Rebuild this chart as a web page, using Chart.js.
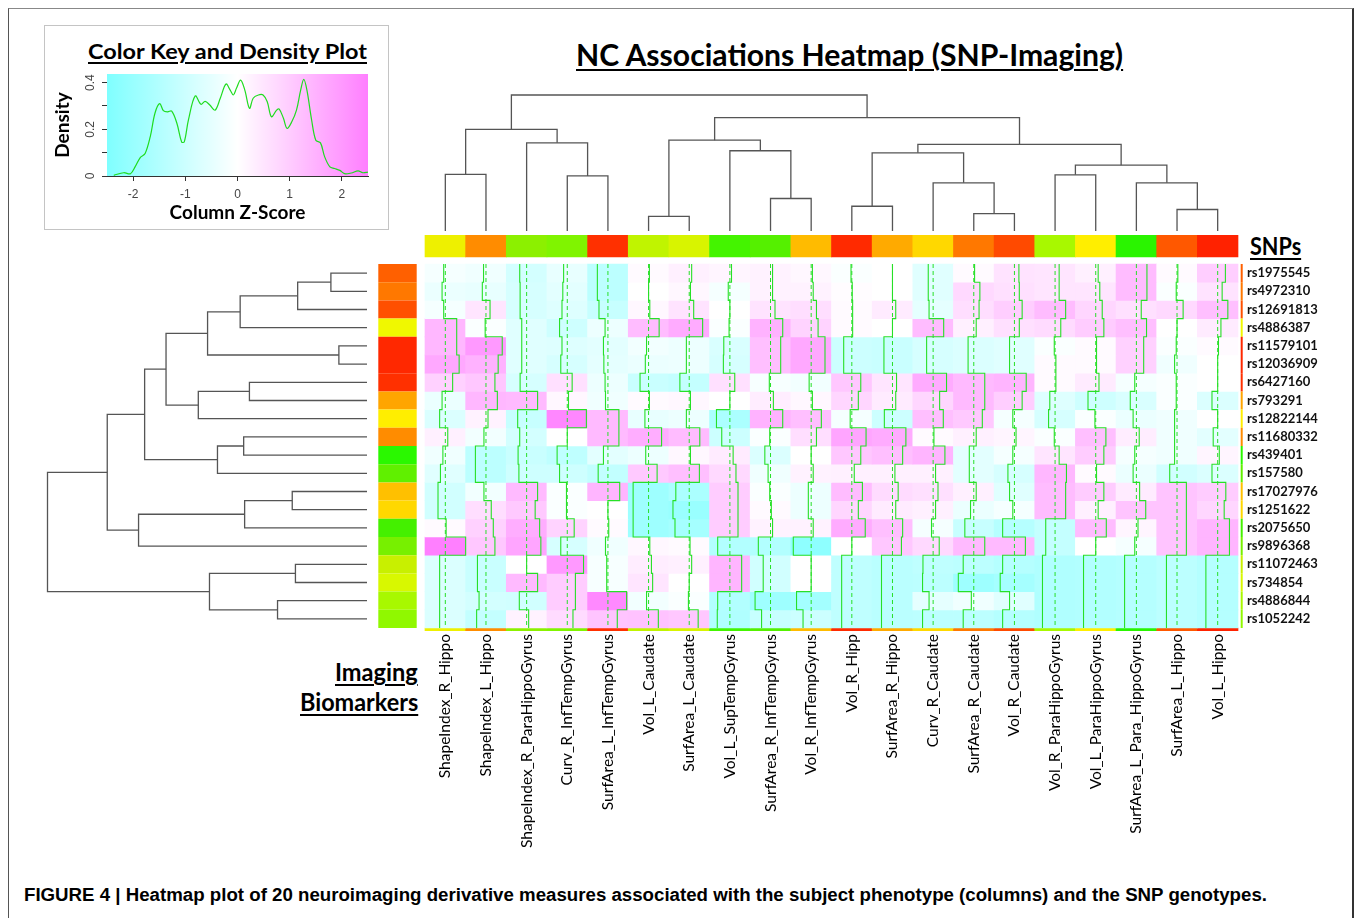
<!DOCTYPE html>
<html>
<head>
<meta charset="utf-8">
<script src="https://cdn.jsdelivr.net/npm/chart.js@4.4.0/dist/chart.umd.min.js"></script>
<style>
  html, body { margin: 0; padding: 0; background: #fff; }
  body { width: 1355px; height: 918px; position: relative; overflow: hidden; font-family: Lato, 'Open Sans', sans-serif; }
  .abs { position: absolute; }
  #frame { left: 8px; top: 8px; width: 1346px; height: 930px; border-top: 1.5px solid #888; border-left: 1px solid #555; border-right: 2px solid #333; box-sizing: border-box; }
  #keybox { left: 44px; top: 25px; width: 345px; height: 205px; border: 1.5px solid #c4c4c4; box-sizing: border-box; }
  .txt { position: absolute; white-space: nowrap; color: #000; line-height: 1.2; }
  .ttl { font-weight: 700; text-decoration: underline; text-decoration-thickness: 2px; text-underline-offset: 3px; }
  canvas { position: absolute; }
</style>
</head>
<body>
<div id="frame" class="abs"></div>
<div id="keybox" class="abs"></div>

<div id="tMain" class="txt ttl" style="font-size:31px">NC Associations Heatmap (SNP-Imaging)</div>
<div id="tKey" class="txt ttl" style="font-size:21px">Color Key and Density Plot</div>
<div id="tSnp" class="txt ttl" style="font-size:25px">SNPs</div>
<div id="tImg" class="txt ttl" style="font-size:25px">Imaging</div>
<div id="tBio" class="txt ttl" style="font-size:25px">Biomarkers</div>
<div id="cap" class="txt" style="font:700 18px 'Liberation Sans Narrow','Liberation Sans',Arial,sans-serif">FIGURE 4 | Heatmap plot of 20 neuroimaging derivative measures associated with the subject phenotype (columns) and the SNP genotypes.</div>

<canvas id="keyChart" width="343" height="170" style="left:45px;top:58px"></canvas>
<canvas id="colDend" width="813" height="141" style="left:425px;top:90px"></canvas>
<canvas id="rowDend" width="327" height="364" style="left:40px;top:264px"></canvas>
<canvas id="heat" width="985" height="640" style="left:370px;top:215px"></canvas>

<script>
// Columns (imaging measures), in dendrogram order
const colNames = ['ShapeIndex_R_Hippo', 'ShapeIndex_L_Hippo', 'ShapeIndex_R_ParaHippoGyrus', 'Curv_R_InfTempGyrus',
  'SurfArea_L_InfTempGyrus', 'Vol_L_Caudate', 'SurfArea_L_Caudate', 'Vol_L_SupTempGyrus', 'SurfArea_R_InfTempGyrus',
  'Vol_R_InfTempGyrus', 'Vol_R_Hipp', 'SurfArea_R_Hippo', 'Curv_R_Caudate', 'SurfArea_R_Caudate', 'Vol_R_Caudate',
  'Vol_R_ParaHippoGyrus', 'Vol_L_ParaHippoGyrus', 'SurfArea_L_Para_HippoGyrus', 'SurfArea_L_Hippo', 'Vol_L_Hippo'];

// Rows (SNPs), top to bottom
const rsIds = ['rs1975545', 'rs4972310', 'rs12691813', 'rs4886387', 'rs11579101', 'rs12036909', 'rs6427160',
  'rs793291', 'rs12822144', 'rs11680332', 'rs439401', 'rs157580', 'rs17027976', 'rs1251622', 'rs2075650',
  'rs9896368', 'rs11072463', 'rs734854', 'rs4886844', 'rs1052242'];

const colSideColors = ['#eef000', '#ff8c00', '#8cf000', '#80f400', '#ff3000', '#c0f400', '#d8f400', '#44f400',
  '#55f000', '#ffbb00', '#ff2a00', '#ffaa00', '#ffd800', '#ff7800', '#ff4a00', '#a8f800', '#ffee00', '#2af400',
  '#ff5800', '#ff2200'];
const rowSideColors = ['#ff6000', '#ff7800', '#ff5000', '#f0f800', '#ff2800', '#ff2800', '#ff3000', '#ffa500',
  '#ffee00', '#ff8c00', '#2af800', '#60f000', '#ffc000', '#ffd800', '#44f000', '#77f000', '#c8f000', '#d8f800',
  '#a8f800', '#90f800'];

// Column z-scores, one array per SNP row
const z01 = [-0.2, -0.3, -0.85, -0.45, -1.3, 0.1, 0.3, 0.2, 0.25, 0.15, -0.1, 0, -0.6, 0.1, 0.55, 0.5, 0.3, 1.3, 0.1, 0.95];
const z02 = [-0.4, -0.45, -0.8, -0.55, -1.3, 0, 0.15, -0.2, 0.25, 0.25, 0.05, 0, -0.6, 0.75, 0.6, 0.5, 0.5, 1.3, -0.1, 0.55];
const z03 = [-0.2, 0.5, -0.8, -0.65, -1.1, 0.15, 0.55, 0, 0.55, 0.65, 0.1, 0.4, -0.5, 0.65, 0.95, 1.3, 0.8, 0.6, 0.75, 1.25];
const z04 = [1.4, -0.1, -0.6, -0.95, -0.35, 1.3, 1.65, -0.1, 1.5, 0.85, 0.1, 0, 1.3, 0.3, 0.6, 0.7, 1.0, 1.25, 0, 0.4];
const z05 = [1.4, 2.0, -0.6, -0.65, -0.55, -0.25, -0.35, -0.75, 1.25, 1.7, -1.0, -1.05, -0.8, -0.7, -0.6, -0.1, 0.1, 0.9, -0.1, 0.1];
const z06 = [1.7, 1.5, -0.6, -0.8, -0.5, -0.4, -0.35, -0.8, 1.25, 1.7, -1.0, -1.05, -0.8, -0.7, -0.6, 0.1, 0.1, 0.9, -0.3, 0];
const z07 = [0.9, 1.1, -0.8, 0.6, -0.35, -1.05, -1.15, 0.6, -0.15, -0.25, 1.1, 0.5, 1.65, 1.35, 1.45, 0.1, 0.4, -0.2, -0.1, 0];
const z08 = [-0.4, 1.4, 1.35, 0.15, -0.3, 0.1, 0.15, 0, 0.35, 0.15, 0.8, 0.4, 0.8, 1.35, 0.95, -0.65, -0.95, -0.75, -0.1, -0.7];
const z09 = [-0.7, 0.25, -1.1, 2.35, 1.35, -0.45, -0.35, -1.65, 1.5, 1.25, -0.2, -1.0, 1.25, 1.05, -0.2, -0.8, -0.1, -0.4, -0.3, 0];
const z10 = [0.3, -0.25, -0.85, 0, 1.35, 1.6, 1.3, -1.0, -0.1, 0.65, 1.75, 1.65, 0.1, 0.3, 0.2, -0.1, 1.25, 0.35, -0.3, -0.55];
const z11 = [-0.3, -1.3, -1.05, -1.25, -0.55, -0.35, 0.15, 0.4, -0.7, 0, 1.1, 1.25, 1.45, -0.55, -0.2, 0.5, 1.0, -0.2, -0.3, 0.2];
const z12 = [-0.6, -1.3, -0.95, -0.95, -1.2, 1.05, 1.25, 0.75, -0.3, 0.25, 0.3, 0.3, 0.3, -0.55, -0.8, 1.4, 0.1, -0.4, -0.9, -0.7];
const z13 = [-0.9, -0.25, 1.35, -0.1, 1.45, -1.9, -1.65, 1.0, -0.1, -0.35, 1.3, 0.7, 0.6, 0.3, -0.6, 1.3, 1.0, 0.4, 1.15, 1.0];
const z14 = [-0.9, 0.65, 1.05, -0.1, 0, -1.9, -2.0, 1.0, 0.1, -0.35, 0.8, 0.4, 0.3, -0.4, -0.2, 1.3, 0.3, 1.15, 1.15, 0.8];
const z15 = [0.1, 0.9, 1.6, 0.85, 0.1, -1.9, -1.75, 1.0, 0.25, 0.25, 1.65, 1.25, -0.2, -1.1, -1.45, -1.15, 1.3, 0.2, 1.15, 1.45];
const z16 = [2.5, 1.1, 1.75, -0.8, -0.3, 0.15, 0.1, -1.5, -1.5, -2.2, 0, 1.1, 0.75, 1.35, 1.35, -1.15, 0, -0.2, 1.15, 1.45];
const z17 = [-0.7, -1.05, 0, 2.0, -0.15, 0.35, 0.3, 1.45, -0.9, 0, -1.25, -1.35, -1.25, -1.3, -1.45, -1.55, -1.5, -1.45, -1.3, -1.45];
const z18 = [-0.7, -1.05, 1.35, 1.0, -0.15, 0.5, 0, 1.45, -0.9, 0, -1.25, -1.35, -1.3, -1.9, -1.75, -1.55, -1.5, -1.45, -1.3, -1.45];
const z19 = [-0.7, -0.85, -0.9, 1.0, 2.3, -0.25, -0.1, -1.5, -1.9, -1.8, -1.25, -1.35, -0.5, -0.3, -0.6, -1.55, -1.5, -1.45, -1.3, -1.45];
const z20 = [-0.7, -1.15, 0.25, 0.7, 1.15, 1.2, 1.1, -1.55, -1.1, -1.0, -1.25, -1.35, -1.3, -1.3, -1.45, -1.55, -1.5, -1.45, -1.3, -1.45];
const zRows = [z01, z02, z03, z04, z05, z06, z07, z08, z09, z10, z11, z12, z13, z14, z15, z16, z17, z18, z19, z20];

// Dendrograms, hclust style: negative = leaf (1-based), positive = earlier merge
const colMerge = [[-1, -2], [-4, -5], [-3, 2], [1, 3], [-6, -7], [-9, -10], [-8, 6], [5, 7], [-11, -12], [-14, -15],
  [-13, 10], [9, 11], [-16, -17], [-19, -20], [-18, 14], [13, 15], [12, 16], [8, 17], [4, 18]];
const colHeight = [4.16, 4.05, 6.48, 7.47, 1.08, 2.39, 5.9, 6.68, 1.82, 1.28, 3.54, 5.75, 4.13, 1.58, 3.54, 4.84, 6.37, 8.33, 10];
const rowMerge = [[-1, -2], [1, -3], [2, -4], [-5, -6], [3, 4], [-7, -8], [6, -9], [5, 7], [-10, -11], [9, -12],
  [8, 10], [-13, -14], [12, -15], [13, -16], [11, 14], [-17, -18], [-19, -20], [16, 17], [15, 18]];
const rowHeight = [1.13, 2.17, 3.97, 0.88, 4.99, 3.68, 5.28, 6.29, 3.86, 4.68, 6.96, 2.34, 3.83, 7.15, 8.13, 2.24, 2.8, 4.93, 10];

// Density of the z-scores (color key)
const densityX = [-2.37, -2.18, -2.05, -1.96, -1.86, -1.77, -1.67, -1.58, -1.49, -1.42, -1.34, -1.26, -1.16, -1.07,
  -1.02, -0.94, -0.81, -0.70, -0.62, -0.53, -0.43, -0.33, -0.22, -0.14, -0.08, -0.02, 0.06, 0.14, 0.23, 0.30, 0.40,
  0.49, 0.57, 0.65, 0.75, 0.80, 0.88, 0.95, 1.04, 1.13, 1.21, 1.27, 1.33, 1.42, 1.50, 1.59, 1.67, 1.77, 1.86, 1.96,
  2.05, 2.18, 2.31, 2.40, 2.5];
const densityY = [0.003, 0.014, 0.01, 0.04, 0.08, 0.096, 0.17, 0.27, 0.31, 0.28, 0.275, 0.278, 0.225, 0.146, 0.146,
  0.24, 0.343, 0.307, 0.32, 0.304, 0.282, 0.333, 0.394, 0.368, 0.347, 0.376, 0.411, 0.368, 0.29, 0.333, 0.347, 0.347,
  0.318, 0.254, 0.282, 0.287, 0.247, 0.204, 0.232, 0.282, 0.368, 0.414, 0.368, 0.24, 0.153, 0.142, 0.082, 0.039,
  0.032, 0.024, 0.01, 0.013, 0.022, 0.014, 0.017];
const keyTicksX = [-2, -1, 0, 1, 2];
const keyTicksY = [0, 0.1, 0.2, 0.3, 0.4];

const FONT = 'Lato';
const TRACE = '#27e027';
const DEND = '#555';

// Cyan - white - magenta ramp over z in [-2.5, 2.5]
function zColor(z) {
  const t = Math.min(Math.abs(z) / 2.5, 1);
  const v = Math.round(255 - 128 * t);
  return z < 0 ? `rgb(${v},255,255)` : `rgb(255,${v},255)`;
}

function dendroSegments(merge, heights) {
  const pos = [];
  const node = k => k < 0 ? { p: -k - 0.5, h: 0 } : { p: pos[k - 1], h: heights[k - 1] };
  return merge.map(([a, b], i) => {
    const L = node(a), R = node(b), h = heights[i];
    pos[i] = (L.p + R.p) / 2;
    return [[L.p, L.h], [L.p, h], [R.p, h], [R.p, R.h]];
  });
}

const baseOpts = {
  responsive: false,
  animation: false,
  events: [],
  layout: { padding: 0 },
  plugins: { legend: { display: false }, tooltip: { enabled: false } },
};

// ---- color key and density plot ----
const keyGradient = {
  id: 'keyGradient',
  beforeDatasetsDraw(chart) {
    const { ctx, chartArea: a, scales: { x } } = chart;
    const x0 = x.getPixelForValue(-2.5), x1 = x.getPixelForValue(2.5);
    const g = ctx.createLinearGradient(x0, 0, x1, 0);
    for (let i = 0; i <= 20; i++) {
      const z = -2.5 + i * 0.25;
      g.addColorStop(i / 20, zColor(z));
    }
    ctx.save();
    ctx.fillStyle = g;
    ctx.fillRect(a.left, a.top, a.right - a.left, a.bottom - a.top);
    ctx.restore();
  }
};

new Chart(document.getElementById('keyChart'), {
  type: 'line',
  data: {
    datasets: [{
      data: densityX.map((x, i) => ({ x, y: densityY[i] })),
      borderColor: '#1fdc1f', borderWidth: 1.2, pointRadius: 0, tension: 0.35, fill: false,
    }]
  },
  options: {
    ...baseOpts,
    layout: { padding: { top: 16, right: 20, left: 0, bottom: 0 } },
    scales: {
      x: {
        type: 'linear', min: -2.5, max: 2.5,
        afterBuildTicks: s => { s.ticks = keyTicksX.map(v => ({ value: v })); },
        afterFit: s => { s.height = 52; },
        ticks: { color: '#444', font: { family: 'Liberation Sans', size: 12 }, padding: 6, callback: v => String(v) },
        grid: { drawOnChartArea: false, drawTicks: true, tickLength: 5, color: '#333' },
        border: { display: true, color: '#333' },
        title: { display: true, text: 'Column Z-Score', color: '#000', font: { family: FONT, size: 19, weight: 'bold' }, padding: { top: 0, bottom: 4 } },
      },
      y: {
        type: 'linear', min: 0, max: 0.437,
        afterBuildTicks: s => { s.ticks = keyTicksY.map(v => ({ value: v })); },
        afterFit: s => { s.width = 62; },
        ticks: {
          color: '#444', font: { family: 'Liberation Sans', size: 12 }, padding: 3, minRotation: 90, maxRotation: 90,
          crossAlign: 'center',
          callback: v => (Math.round(v * 10) % 2 === 0 ? String(Math.round(v * 10) / 10) : ''),
        },
        grid: { drawOnChartArea: false, drawTicks: true, tickLength: 5, color: '#333' },
        border: { display: true, color: '#333' },
        title: { display: true, text: 'Density', color: '#000', font: { family: FONT, size: 19, weight: 'bold' }, padding: { top: 6, bottom: 0 } },
      },
    },
  },
  plugins: [keyGradient],
});

// ---- column dendrogram ----
new Chart(document.getElementById('colDend'), {
  type: 'line',
  data: {
    datasets: dendroSegments(colMerge, colHeight).map(seg => ({
      data: seg.map(([p, h]) => ({ x: p, y: h })),
      borderColor: DEND, borderWidth: 1.3, pointRadius: 0, tension: 0, fill: false,
    }))
  },
  options: {
    ...baseOpts,
    scales: {
      x: { type: 'linear', display: false, min: 0, max: 20 },
      y: { type: 'linear', display: false, min: 0, max: 10 * 141 / 136 },
    },
  },
});

// ---- row dendrogram ----
new Chart(document.getElementById('rowDend'), {
  type: 'line',
  data: {
    datasets: dendroSegments(rowMerge, rowHeight).map(seg => ({
      data: seg.map(([p, h]) => ({ x: h, y: p })),
      borderColor: DEND, borderWidth: 1.3, pointRadius: 0, tension: 0, fill: false,
    }))
  },
  options: {
    ...baseOpts,
    scales: {
      x: { type: 'linear', display: false, reverse: true, min: 0, max: 10 * 327 / 319.5 },
      y: { type: 'linear', display: false, reverse: true, min: 0, max: 20 },
    },
  },
});

// ---- heatmap ----
// heatmap cell block on the page
const X0 = 425, X1 = 1238, Y0 = 264, Y1 = 628;
const CW = (X1 - X0) / colNames.length, RH = (Y1 - Y0) / rsIds.length;
// chart area of the heat canvas on the page
const AL = 378, AR = 1245, AT = 235, AB = 631;
const nC = colNames.length, nR = rsIds.length;

const cellSets = zRows.map((row, r) => ({
  type: 'bar', order: 2,
  data: row.map((z, c) => ({ x: c + 0.5, y: [r, r + 1] })),
  backgroundColor: row.map(zColor),
  borderWidth: 0, grouped: false, barPercentage: 1, categoryPercentage: 1,
}));

const colSide = {
  type: 'bar', order: 2,
  data: colNames.map((n, c) => ({ x: c + 0.5, y: [(235 - Y0) / RH, (257 - Y0) / RH] })),
  backgroundColor: colSideColors,
  borderWidth: 0, grouped: false, barPercentage: 1, categoryPercentage: 1,
};
const bottomStrip = {
  type: 'bar', order: 2,
  data: colNames.map((n, c) => ({ x: c + 0.5, y: [nR, nR + 2.7 / RH] })),
  backgroundColor: colSideColors,
  borderWidth: 0, grouped: false, barPercentage: 1, categoryPercentage: 1,
};
const rowSide = {
  type: 'bar', order: 2,
  data: rsIds.map((n, r) => ({ x: (397.5 - X0) / CW, y: [r, r + 1] })),
  backgroundColor: rowSideColors,
  borderWidth: 0, grouped: false, barPercentage: 38.4 / CW, categoryPercentage: 1,
};
const rightStrip = {
  type: 'line', order: 0,
  data: Array.from({ length: nR + 1 }, (_, r) => ({ x: (1241.7 - X0) / CW, y: r })),
  borderWidth: 2, pointRadius: 0, borderCapStyle: 'butt',
  segment: { borderColor: ctx => rowSideColors[ctx.p0DataIndex] },
};

const traceSets = [];
colNames.forEach((n, c) => {
  // dashed reference line at z = 0
  traceSets.push({
    type: 'line', order: 0,
    data: [{ x: c + 0.5, y: 0 }, { x: c + 0.5, y: nR }],
    borderColor: TRACE, borderWidth: 1, borderDash: [4, 3], pointRadius: 0,
  });
  // solid step trace: offset from column centre proportional to z
  const pts = zRows.map((row, r) => ({ x: c + 0.5 + row[c] / 5, y: r }));
  pts.push({ x: pts[pts.length - 1].x, y: nR });
  traceSets.push({
    type: 'line', order: 0,
    data: pts, stepped: 'after',
    borderColor: TRACE, borderWidth: 1.1, pointRadius: 0,
  });
});

new Chart(document.getElementById('heat'), {
  type: 'bar',
  data: { datasets: [...traceSets, rightStrip, ...cellSets, colSide, bottomStrip, rowSide] },
  options: {
    ...baseOpts,
    layout: { padding: { left: AL - 370, top: AT - 215, right: 0, bottom: 0 } },
    scales: {
      x: {
        type: 'linear', offset: false, bounds: 'data',
        min: (AL - X0) / CW, max: (AR - X0) / CW,
        afterBuildTicks: s => { s.ticks = colNames.map((n, c) => ({ value: c + 0.5 })); },
        afterFit: s => { s.height = 640 - (AB - 215); },
        ticks: {
          autoSkip: false, minRotation: 90, maxRotation: 90, padding: 3, color: '#000',
          font: { family: FONT, size: 15.5 },
          callback: (v, i) => colNames[i],
        },
        grid: { display: false, drawTicks: false },
        border: { display: false },
      },
      y: {
        type: 'linear', position: 'right', reverse: true, bounds: 'data',
        min: (AT - Y0) / RH, max: (AB - Y0) / RH,
        afterBuildTicks: s => { s.ticks = rsIds.map((n, r) => ({ value: r + 0.5 })); },
        afterFit: s => { s.width = 1355 - AR; },
        ticks: {
          autoSkip: false, padding: 2, color: '#111',
          font: { family: FONT, size: 13, weight: 'bold' },
          callback: (v, i) => rsIds[i],
        },
        grid: { display: false, drawTicks: false },
        border: { display: false },
      },
    },
  },
});

// ---- HTML titles, fitted to the reference boxes ----
function place(id, x0, x1, yc) {
  const el = document.getElementById(id);
  const w = el.offsetWidth, h = el.offsetHeight;
  el.style.left = x0 + 'px';
  el.style.top = (yc - h / 2) + 'px';
  el.style.transformOrigin = '0 50%';
  el.style.transform = `scaleX(${(x1 - x0) / w})`;
}
place('tMain', 576, 1123, 54);
place('tKey', 88, 367, 50);
place('tSnp', 1250, 1301, 245);
place('tImg', 335, 418, 671);
place('tBio', 300, 418, 701);
place('cap', 24, 1267, 895);
</script>
</body>
</html>
